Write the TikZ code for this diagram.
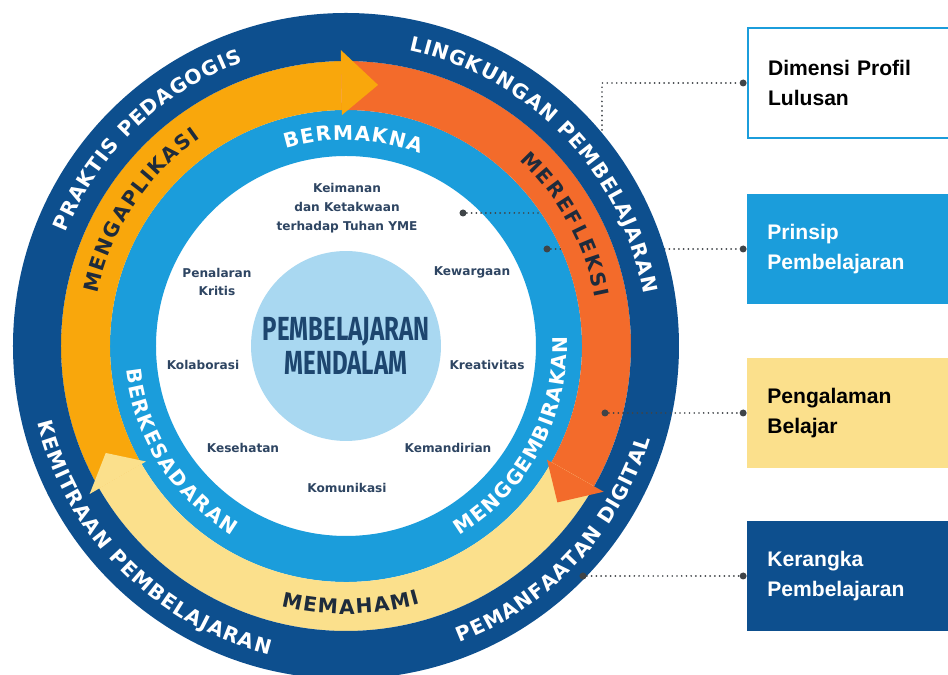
\documentclass[tikz,border=0pt]{standalone}
\usepackage{fontspec}
\newfontfamily\ringfont{DejaVu Sans}
\newfontfamily\labelfont{DejaVu Sans}
\newfontfamily\boxfont{Liberation Sans}
\newfontfamily\corefont[FakeStretch=0.72]{Fira Sans}
\usetikzlibrary{decorations.text, positioning}

\definecolor{ringdark}{HTML}{0D4F8E}
\definecolor{ringcyan}{HTML}{1B9DDB}
\definecolor{bandorange}{HTML}{F9A70C}
\definecolor{bandred}{HTML}{F36B2B}
\definecolor{bandyellow}{HTML}{FBE08C}
\definecolor{bandink}{HTML}{1E2B3C}
\definecolor{corelight}{HTML}{A9D8F1}
\definecolor{corenavy}{HTML}{1D466F}
\definecolor{labelnavy}{HTML}{2E4562}
\definecolor{leadergray}{HTML}{3F4448}

\newcommand{\ringtype}{\ringfont\bfseries\fontsize{11.5}{13}\selectfont}

\begin{document}
\begin{tikzpicture}[x=0.02cm, y=0.02cm,
  ringtext/.style={decorate, decoration={text along path, text align=fit to path, text color=white}},
  inktext/.style={decorate, decoration={text along path, text align=fit to path, text color=bandink}},
  infobox/.style={anchor=west, minimum height=2.2cm, text width=3.4cm, inner xsep=0.4cm, align=left, font=\boxfont\bfseries\fontsize{12}{17.5}\selectfont},
  dot/.style={circle, fill=leadergray, inner sep=0pt, minimum size=0.14cm},
  leader/.style={leadergray, line width=1.1pt, line cap=round, dash pattern=on 0pt off 2.7pt},
  dimlabel/.style={align=center, text=labelnavy, font=\labelfont\bfseries\fontsize{6.9}{10.8}\selectfont},
  core/.style={circle, fill=corelight, minimum size=3.8cm, inner sep=0pt, align=center, text=corenavy, font=\corefont\bfseries\fontsize{19}{19}\selectfont}]

\useasboundingbox (-346,-329) rectangle (602,346);
\clip (-346,-329) rectangle (602,346);
\fill[white] (-346,-329) rectangle (602,346);

% legend boxes
\node[infobox, draw=ringcyan, line width=1.2pt, fill=white, text=black] (profil) at (401,263) {Dimensi Profil\\Lulusan};
\node[infobox, fill=ringcyan, text=white] (prinsip) at (401,97) {Prinsip\\Pembelajaran};
\node[infobox, fill=bandyellow, text=black] (pengalaman) at (401,-67) {Pengalaman\\Belajar};
\node[infobox, fill=ringdark, text=white] (kerangka) at (401,-230) {Kerangka\\Pembelajaran};
\node[dot, left=0pt of profil] (p1) {};
\node[dot, left=0pt of prinsip] (p2) {};
\node[dot, left=0pt of pengalaman] (p3) {};
\node[dot, left=0pt of kerangka] (p4) {};

% inner rings
\fill[ringcyan, even odd rule] (0,0) circle[radius=236] circle[radius=190];
\node[core] (core) at (0,0) {PEMBELAJARAN\\MENDALAM};

% leaders under the outer rings
\node[dot] (d1) at (117,133) {};
\node[dot] (d2) at (201,97) {};
\coordinate (bend) at (256,263);
\draw[leader] (d1) -| (bend) -- (p1);
\draw[leader] (d2) -- (p2);

% learning experience band
\foreach \a/\b/\c in {91/210/bandorange, -29.5/91/bandred, -150/-29.5/bandyellow}
  \fill[\c] (\a:236) arc[start angle=\a, end angle=\b, radius=236] -- (\b:285) arc[start angle=\b, end angle=\a, radius=285] -- cycle;

% outer ring
\fill[ringdark, even odd rule] (0,0) circle[radius=333] circle[radius=285];

% arrow heads
\foreach \a/\t/\c in {91/83/bandorange, -29.5/-36.5/bandred, 210/204/bandyellow}
  \fill[\c] (\a:231) -- (\t:263) -- (\a:296) -- cycle;

% ring texts
\path[ringtext, decoration={text={|\ringtype|PRAKTIS PEDAGOGIS}}] (158:302) arc[start angle=158, end angle=110, radius=302];
\path[ringtext, decoration={text={|\ringtype|LINGKUNGAN PEMBELAJARAN}}] (78:302) arc[start angle=78, end angle=10, radius=302];
\path[ringtext, decoration={text={|\ringtype|KEMITRAAN PEMBELAJARAN}}] (194:318) arc[start angle=194, end angle=256, radius=318];
\path[ringtext, decoration={text={|\ringtype|PEMANFAATAN DIGITAL}}] (-69:318) arc[start angle=-69, end angle=-17, radius=318];
\path[inktext, decoration={text={|\ringtype|MENGAPLIKASI}}] (168:254) arc[start angle=168, end angle=125, radius=254];
\path[inktext, decoration={text={|\ringtype|MEREFLEKSI}}] (47:254) arc[start angle=47, end angle=11, radius=254];
\path[inktext, decoration={text={|\ringtype|MEMAHAMI}}] (256:268) arc[start angle=256, end angle=286, radius=268];
\path[ringtext, decoration={text={|\ringtype|BERMAKNA}}] (107:206) arc[start angle=107, end angle=69, radius=206];
\path[ringtext, decoration={text={|\ringtype|BERKESADARAN}}] (186:221) arc[start angle=186, end angle=239, radius=221];
\path[ringtext, decoration={text={|\ringtype|MENGGEMBIRAKAN}}] (-59:221) arc[start angle=-59, end angle=2.5, radius=221];

% profile dimensions
\node[dimlabel] (iman) at (1,138) {Keimanan\\dan Ketakwaan\\terhadap Tuhan YME};
\node[dimlabel] (nalar) at (-129,64) {Penalaran\\Kritis};
\node[dimlabel] (warga) at (126,74) {Kewargaan};
\node[dimlabel] (kolab) at (-143,-19) {Kolaborasi};
\node[dimlabel] (kreatif) at (141,-19) {Kreativitas};
\node[dimlabel] (sehat) at (-103,-102) {Kesehatan};
\node[dimlabel] (mandiri) at (102,-102) {Kemandirian};
\node[dimlabel] (komun) at (1,-142) {Komunikasi};

% leaders on top
\node[dot] (d3) at (259,-67) {};
\node[dot] (d4) at (237,-230) {};
\draw[leader] (d3) -- (p3);
\draw[leader] (d4) -- (p4);
\end{tikzpicture}
\end{document}
